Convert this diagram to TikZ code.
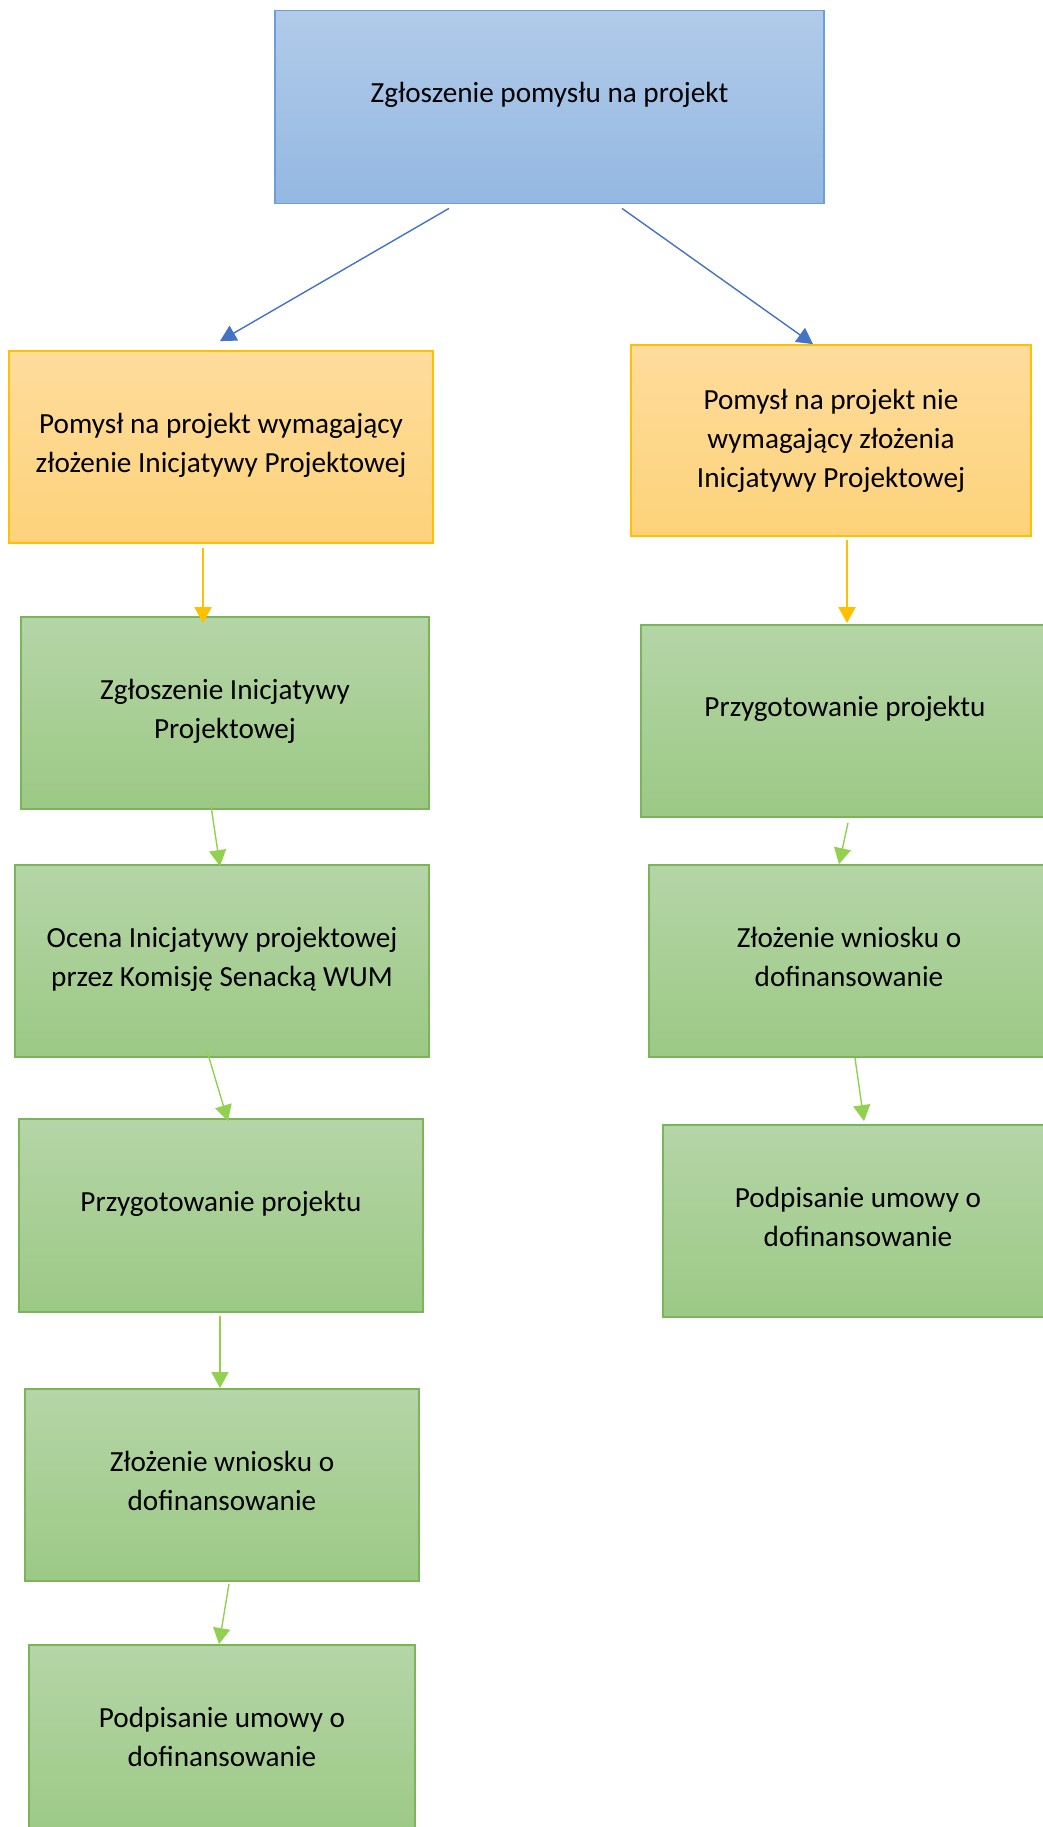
\documentclass[tikz,border=0pt]{standalone}
\usepackage{fontspec}
\setmainfont{Carlito}
\usetikzlibrary{arrows.meta,calc}

\definecolor{blueTop}{HTML}{B1CBE9}
\definecolor{blueBot}{HTML}{94B8E2}
\definecolor{blueLine}{HTML}{6A9FD8}
\definecolor{blueArr}{HTML}{4472C4}
\definecolor{goldTop}{HTML}{FEDC9C}
\definecolor{goldBot}{HTML}{FDD27A}
\definecolor{goldLine}{HTML}{FFC000}
\definecolor{greenTop}{HTML}{B5D5A7}
\definecolor{greenBot}{HTML}{9CC985}
\definecolor{greenLine}{HTML}{7AB55A}
\definecolor{greenArr}{HTML}{92D050}

% text sits a little above the middle of each box
\newcommand{\lift}[1]{\raisebox{18pt}{\begin{tabular}{@{}c@{}}#1\end{tabular}}}

\tikzset{
  box/.style 2 args={rectangle, minimum width=#1*0.5pt, minimum height=#2*0.5pt,
    inner sep=0pt, line width=0.9pt, text=black,
    font=\fontsize{14.6pt}{19.5pt}\selectfont},
  bluebox/.style={top color=blueTop, bottom color=blueBot, draw=blueLine},
  goldbox/.style={top color=goldTop, bottom color=goldBot, draw=goldLine},
  greenbox/.style={top color=greenTop, bottom color=greenBot, draw=greenLine},
  arr/.style={line width=0.7pt, -{Triangle[length=8pt,width=8.5pt]}},
}

\begin{document}
\begin{tikzpicture}[x=0.5pt,y=-0.5pt]
        \useasboundingbox (0,0) rectangle (1043,1827);
        \clip (0,0) rectangle (1043,1827);

        % top
        \node[box={549}{193},bluebox] (idea) at (549.5,107) {\lift{Zgłoszenie pomysłu na projekt}};

        % two branches
        \node[box={424}{192},goldbox] (req) at (221,447) {\lift{Pomysł na projekt wymagający\\złożenie Inicjatywy Projektowej}};
        \node[box={400}{191},goldbox] (noreq) at (831,440.5) {\lift{Pomysł na projekt nie\\wymagający złożenia\\Inicjatywy Projektowej}};

        % left column
        \node[box={408}{192},greenbox] (l1) at (225,713) {\lift{Zgłoszenie Inicjatywy\\Projektowej}};
        \node[box={414}{192},greenbox] (l2) at (222,961) {\lift{Ocena Inicjatywy projektowej\\przez Komisję Senacką WUM}};
        \node[box={404}{193},greenbox] (l3) at (221,1215.5) {\lift{Przygotowanie projektu}};
        \node[box={394}{192},greenbox] (l4) at (222,1485) {\lift{Złożenie wniosku o\\dofinansowanie}};
        \node[box={386}{192},greenbox] (l5) at (222,1741) {\lift{Podpisanie umowy o\\dofinansowanie}};

        % right column
        \node[box={408}{192},greenbox] (r1) at (845,721) {\lift{Przygotowanie projektu}};
        \node[box={400}{192},greenbox] (r2) at (849,961) {\lift{Złożenie wniosku o\\dofinansowanie}};
        \node[box={390}{192},greenbox] (r3) at (858,1221) {\lift{Podpisanie umowy o\\dofinansowanie}};

        % arrows
        \draw[arr,blueArr] ($(idea.south)+(-100.5,4)$) -- ($(req.north)+(-1,-9)$);
        \draw[arr,blueArr] ($(idea.south)+(72.5,4)$) -- ($(noreq.north)+(-18,0)$);
        \draw[arr,goldLine,line width=1pt] ($(req.south)+(-18,4)$) -- ($(l1.north)+(-22,7)$);
        \draw[arr,goldLine,line width=1pt] ($(noreq.south)+(16,3)$) -- ($(r1.north)+(2,-1)$);
        \draw[arr,greenArr] ($(l1.south)+(-14,-4)$) -- ($(l2.north)+(-2,2)$);
        \draw[arr,greenArr] ($(l2.south)+(-15,-7)$) -- ($(l3.north)+(7,3)$);
        \draw[arr,greenArr] ($(l3.south)+(-1,3)$) -- ($(l4.north)+(-2,0)$);
        \draw[arr,greenArr] ($(l4.south)+(7,2)$) -- ($(l5.north)+(-3,0)$);
        \draw[arr,greenArr] ($(r1.south)+(3,5)$) -- ($(r2.north)+(-10,0)$);
        \draw[arr,greenArr] ($(r2.south)+(6,0)$) -- ($(r3.north)+(6,-3)$);
\end{tikzpicture}
\end{document}
